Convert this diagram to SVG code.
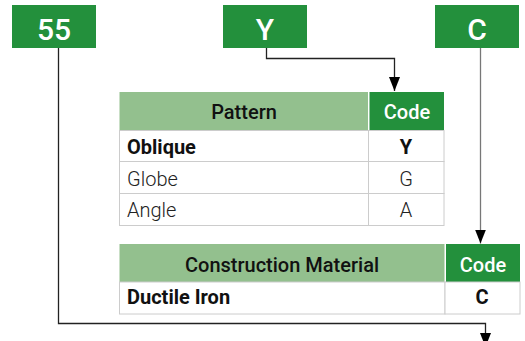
<svg xmlns="http://www.w3.org/2000/svg" width="525" height="341" viewBox="0 0 525 341">
<defs>
<style>
.dk{fill:#23903c}
.lt{fill:#93c08e}
.cell{fill:#fff;stroke:#cccccc;stroke-width:1}
.hd{font-family:Roboto,"Noto Sans",sans-serif;font-size:30px;font-weight:500;fill:#fff;text-anchor:middle}
.th{font-family:Roboto,"Noto Sans",sans-serif;font-size:20px;font-weight:500;fill:#111;text-anchor:middle}
.thw{font-family:Roboto,"Noto Sans",sans-serif;font-size:20px;font-weight:500;fill:#fff;text-anchor:middle}
.b{font-family:Roboto,"Noto Sans",sans-serif;font-size:20px;font-weight:700;fill:#111}
.l{font-family:Roboto,"Noto Sans",sans-serif;font-size:20px;font-weight:300;fill:#222}
.ln{fill:none;stroke:#222;stroke-width:1.3}
</style>
<marker id="ah" markerWidth="14" markerHeight="11" refX="14" refY="5.5" orient="auto" markerUnits="userSpaceOnUse" viewBox="0 0 14 11">
<path d="M0,0 L14,5.5 L0,11 Z" fill="#000"/>
</marker>
</defs>
<g id="connectors">
<path class="ln" d="M58.5,48 V323.5 H485.5 V347" marker-end="url(#ah)"/>
<path class="ln" d="M266.5,48 V58.5 H394.5 V91" marker-end="url(#ah)"/>
<path class="ln" style="stroke:#777" d="M480.5,48 V243.5" marker-end="url(#ah)"/>
</g>
<g id="box-55"><rect class="dk" x="12" y="5" width="84" height="43"/><text class="hd" x="54" y="40">55</text></g>
<g id="box-Y"><rect class="dk" x="223" y="5" width="84" height="43"/><text class="hd" x="265" y="40">Y</text></g>
<g id="box-C"><rect class="dk" x="435" y="5" width="84" height="43"/><text class="hd" x="477" y="40">C</text></g>
<g id="table-pattern">
<rect class="lt" x="119.5" y="92" width="248.5" height="38"/>
<rect class="dk" x="369.5" y="92" width="74.5" height="38"/>
<text class="th" x="244" y="119">Pattern</text>
<text class="thw" x="407" y="119">Code</text>
<rect class="cell" x="119.5" y="130.5" width="249" height="31"/>
<rect class="cell" x="368.5" y="130.5" width="75.5" height="31"/>
<rect class="cell" x="119.5" y="161.5" width="249" height="32"/>
<rect class="cell" x="368.5" y="161.5" width="75.5" height="32"/>
<rect class="cell" x="119.5" y="193.5" width="249" height="32"/>
<rect class="cell" x="368.5" y="193.5" width="75.5" height="32"/>
<text class="b" x="127" y="154">Oblique</text>
<text class="b" x="406" y="154" text-anchor="middle">Y</text>
<text class="l" x="127" y="186">Globe</text>
<text class="l" x="406" y="186" text-anchor="middle">G</text>
<text class="l" x="127" y="217">Angle</text>
<text class="l" x="406" y="217" text-anchor="middle">A</text>
</g>
<g id="table-material">
<rect class="lt" x="119.5" y="244" width="325" height="38"/>
<rect class="dk" x="446" y="244" width="74" height="38"/>
<text class="th" x="282" y="272">Construction Material</text>
<text class="thw" x="483" y="272">Code</text>
<rect class="cell" x="119.5" y="282" width="325.5" height="32"/>
<rect class="cell" x="445" y="282" width="75" height="32"/>
<text class="b" x="127" y="304">Ductile Iron</text>
<text class="b" x="482" y="304" text-anchor="middle">C</text>
</g>
</svg>
